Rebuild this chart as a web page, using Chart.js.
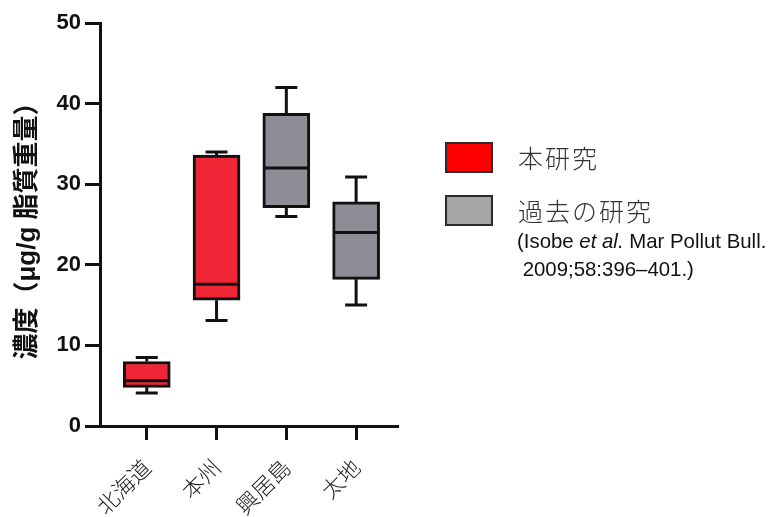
<!DOCTYPE html>
<html>
<head>
<meta charset="utf-8">
<script src="https://cdn.jsdelivr.net/npm/chart.js@4"></script>
<style>
  html, body { margin: 0; padding: 0; background: #fff; }
  #wrap { position: relative; width: 784px; height: 517px; overflow: hidden; }
  canvas { position: absolute; left: 0; top: 0; }
  .lg-box { position: absolute; width: 44px; height: 27px; border: 2px solid #2a2a2a; }
  .lg-text { position: absolute; font-family: 'Noto Sans CJK JP', sans-serif; font-weight: 300; font-size: 25px; color: #333; line-height: 1; white-space: nowrap; letter-spacing: 2px; }
  .cite { position: absolute; font-family: 'Liberation Sans', Arial, sans-serif; font-size: 20.4px; color: #111; line-height: 28px; white-space: pre; }
</style>
</head>
<body>
<div id="wrap">
  <canvas id="c" width="784" height="517"></canvas>
</div>
<script>
// ---- data ----
const categories = ['北海道', '本州', '興居島', '太地'];
const seriesNames = ['本研究', '過去の研究'];
const seriesOf = [0, 0, 1, 1];           // which series each category belongs to
const whiskerMin = [4.1, 13.1, 26.0, 15.0];
const q1 = [4.8, 15.6, 27.1, 18.2];
const median = [5.6, 17.6, 32.0, 24.0];
const q3 = [8.0, 33.6, 38.8, 27.8];
const whiskerMax = [8.5, 34.0, 42.0, 30.9];
const yTicks = [0, 10, 20, 30, 40, 50];
const yTitle = '濃度（μg/g 脂質重量）';
const citation = ['(Isobe <i>et al.</i> Mar Pollut Bull.', ' 2009;58:396–401.)'];

// ---- styles ----
const boxColors = ['#f02535', '#8e8d95'];
const legendColors = ['#ff0000', '#a5a5a5'];
const ink = '#111111';

const datasets = seriesNames.map((name, s) => ({
  label: name,
  data: categories.map((c, i) => seriesOf[i] === s ? { x: i, y: [q1[i], q3[i]] } : null).filter(Boolean),
  backgroundColor: boxColors[s],
  borderColor: ink,
  borderWidth: 3,
  borderSkipped: false,
  barThickness: 47,
  grouped: false
}));

const boxPlotPlugin = {
  id: 'boxplot',
  afterDatasetsDraw(chart) {
    const { ctx, scales: { x, y } } = chart;
    ctx.save();
    ctx.strokeStyle = ink;
    ctx.lineWidth = 3;
    ctx.lineCap = 'butt';
    const half = 47 / 2 - 1.5;
    const cap = 11;
    categories.forEach((c, i) => {
      const px = x.getPixelForValue(i);
      const yMax = y.getPixelForValue(whiskerMax[i]);
      const yMin = y.getPixelForValue(whiskerMin[i]);
      const yQ1 = y.getPixelForValue(q1[i]);
      const yQ3 = y.getPixelForValue(q3[i]);
      const yMed = y.getPixelForValue(median[i]);
      ctx.beginPath();
      // upper whisker
      ctx.moveTo(px, yQ3); ctx.lineTo(px, yMax);
      ctx.moveTo(px - cap, yMax); ctx.lineTo(px + cap, yMax);
      // lower whisker
      ctx.moveTo(px, yQ1); ctx.lineTo(px, yMin);
      ctx.moveTo(px - cap, yMin); ctx.lineTo(px + cap, yMin);
      // median
      ctx.moveTo(px - half, yMed); ctx.lineTo(px + half, yMed);
      ctx.stroke();
    });
    ctx.restore();
  }
};

new Chart(document.getElementById('c'), {
  type: 'bar',
  data: { datasets },
  plugins: [boxPlotPlugin],
  options: {
    responsive: false,
    animation: false,
    devicePixelRatio: 1,
    layout: { padding: { left: 0, top: 23, right: 386, bottom: 0 } },
    plugins: { legend: { display: false }, tooltip: { enabled: false } },
    scales: {
      x: {
        type: 'linear',
        offset: false,
        min: -0.67,
        max: 3.6,
        afterFit(scale) { scale.height = 91; },
        afterBuildTicks(scale) { scale.ticks = categories.map((c, i) => ({ value: i })); },
        ticks: {
          autoSkip: false,
          minRotation: 45,
          maxRotation: 45,
          padding: 14,
          color: '#222',
          font: { family: "'Noto Sans CJK JP', sans-serif", size: 22, weight: 300 },
          callback: (v) => categories[v]
        },
        grid: { display: true, offset: false, drawOnChartArea: false, drawTicks: true, tickLength: 14, tickWidth: 3, tickColor: ink },
        border: { display: true, width: 3, color: ink }
      },
      y: {
        type: 'linear',
        min: 0,
        max: 50,
        afterFit(scale) { scale.width = 100; },
        afterBuildTicks(scale) { scale.ticks = yTicks.map(v => ({ value: v })); },
        ticks: {
          padding: 4,
          color: ink,
          font: { family: "'Liberation Sans', Arial, sans-serif", size: 22, weight: 'bold' }
        },
        title: {
          display: true,
          text: yTitle,
          color: ink,
          padding: { top: 12, bottom: 0 },
          font: { family: "'Liberation Sans', 'Noto Sans CJK JP', sans-serif", size: 26, weight: 'bold' }
        },
        grid: { display: true, drawOnChartArea: false, drawTicks: true, tickLength: 15, tickWidth: 3, tickColor: ink },
        border: { display: true, width: 3, color: ink }
      }
    }
  }
});

// ---- legend (HTML text) ----
const wrap = document.getElementById('wrap');
const legendTops = [142, 195];
seriesNames.forEach((name, s) => {
  const b = document.createElement('div');
  b.className = 'lg-box';
  b.style.left = '445px';
  b.style.top = legendTops[s] + 'px';
  b.style.background = legendColors[s];
  wrap.appendChild(b);
  const t = document.createElement('div');
  t.className = 'lg-text';
  t.style.left = '518px';
  t.style.top = (legendTops[s] + 3) + 'px';
  t.textContent = name;
  wrap.appendChild(t);
});
const cite = document.createElement('div');
cite.className = 'cite';
cite.style.left = '517px';
cite.style.top = '227px';
cite.innerHTML = citation.join('\n');
wrap.appendChild(cite);
</script>
</body>
</html>
